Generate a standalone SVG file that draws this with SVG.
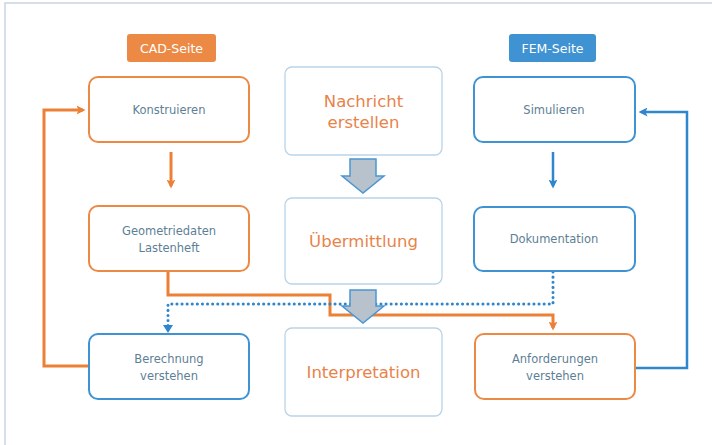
<svg xmlns="http://www.w3.org/2000/svg" width="712" height="445" viewBox="0 0 712 445">
<defs>
<style>
.frame{fill:#ffffff;stroke:#c9d3e3;stroke-width:1.5}
.ob{fill:#ffffff;stroke:#ec8a45;stroke-width:2}
.bb{fill:#ffffff;stroke:#3f93d2;stroke-width:2}
.cb{fill:#ffffff;stroke:#b9d3e8;stroke-width:1.3}
.lbl{font-family:"DejaVu Sans",Verdana,sans-serif;font-size:11.5px;fill:#5d7f96;text-anchor:middle}
.big{font-family:"DejaVu Sans",Verdana,sans-serif;font-size:16.5px;fill:#e8834a;text-anchor:middle}
.tag{font-family:"DejaVu Sans",Verdana,sans-serif;font-size:12.5px;fill:#ffffff;text-anchor:middle}
.oc{fill:none;stroke:#ec8037;stroke-width:3}
.bc{fill:none;stroke:#2f86cc;stroke-width:2.5}
.dc{fill:none;stroke:#2f86cc;stroke-width:3;stroke-dasharray:0.1 5;stroke-linecap:round}
.ga{fill:#b7c2cc;stroke:#4a96d4;stroke-width:1.5;stroke-linejoin:miter}
</style>
<marker id="ao" markerWidth="9" markerHeight="9" refX="6.5" refY="4.5" orient="auto" markerUnits="userSpaceOnUse"><path d="M0,0 L9,4.5 L0,9 L2,4.5 Z" fill="#ec8037"/></marker>
<marker id="ab" markerWidth="9" markerHeight="9" refX="6.5" refY="4.5" orient="auto" markerUnits="userSpaceOnUse"><path d="M0,0 L9,4.5 L0,9 L2,4.5 Z" fill="#2f86cc"/></marker>
</defs>
<rect class="frame" x="5" y="3" width="708" height="446"/>

<g id="cad-tag"><rect x="127" y="34" width="89" height="28" rx="3" fill="#ec8a45"/><text class="tag" x="171.5" y="52.5">CAD-Seite</text></g>
<g id="fem-tag"><rect x="509" y="34" width="87" height="28" rx="3" fill="#3f93d2"/><text class="tag" x="552.5" y="52.5">FEM-Seite</text></g>

<g id="connectors">
<path class="oc" d="M171,152 V186" marker-end="url(#ao)"/>
<path class="bc" d="M553,152 V186" marker-end="url(#ab)"/>
<path class="oc" d="M168,271 V295 H330 V315 H553 V328" marker-end="url(#ao)"/>
<path class="dc" d="M553,272 V304 H168 V326"/>
<path d="M163,325 L168,333 L173,325 Z" fill="#2f86cc"/>
<path class="oc" d="M89,366 H44 V110 H83" marker-end="url(#ao)"/>
<path class="bc" d="M635,368 H687 V112 H641" marker-end="url(#ab)"/>
</g>

<g id="konstruieren"><rect class="ob" x="89" y="77" width="160" height="65" rx="9"/><text class="lbl" x="169" y="114">Konstruieren</text></g>
<g id="geometriedaten"><rect class="ob" x="89" y="206" width="160" height="65" rx="9"/><text class="lbl" x="169" y="235">Geometriedaten</text><text class="lbl" x="169" y="252">Lastenheft</text></g>
<g id="berechnung"><rect class="bb" x="89" y="334" width="160" height="65" rx="9"/><text class="lbl" x="169" y="363">Berechnung</text><text class="lbl" x="169" y="380">verstehen</text></g>

<g id="simulieren"><rect class="bb" x="474" y="77" width="161" height="65" rx="9"/><text class="lbl" x="554" y="114">Simulieren</text></g>
<g id="dokumentation"><rect class="bb" x="474" y="207" width="161" height="64" rx="9"/><text class="lbl" x="554" y="243">Dokumentation</text></g>
<g id="anforderungen"><rect class="ob" x="475" y="334" width="160" height="65" rx="9"/><text class="lbl" x="555" y="363">Anforderungen</text><text class="lbl" x="555" y="380">verstehen</text></g>

<g id="nachricht"><rect class="cb" x="285" y="67" width="157" height="88" rx="7"/><text class="big" x="363.5" y="107">Nachricht</text><text class="big" x="363.5" y="128">erstellen</text></g>
<g id="uebermittlung"><rect class="cb" x="285" y="198" width="157" height="86" rx="7"/><text class="big" x="363.5" y="247">Übermittlung</text></g>
<g id="interpretation"><rect class="cb" x="285" y="328" width="157" height="88" rx="7"/><text class="big" x="363.5" y="378">Interpretation</text></g>

<g id="arrow1"><path class="ga" d="M350,159 H376 V176 H384 L363,193 L342,176 H350 Z"/></g>
<g id="arrow2"><path class="ga" d="M350,290 H376 V306 H384 L363,323 L342,306 H350 Z"/></g>
</svg>
